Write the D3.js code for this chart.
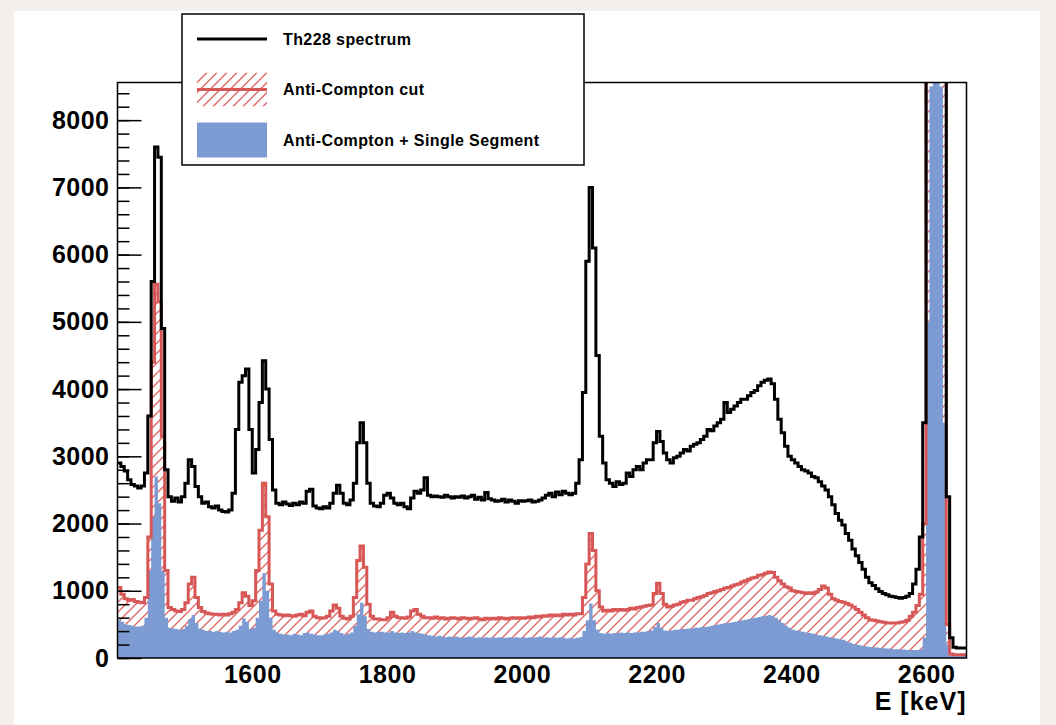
<!DOCTYPE html>
<html>
<head>
<meta charset="utf-8">
<script src="https://cdn.jsdelivr.net/npm/d3@7"></script>
<style>
  body { margin: 0; background: #f3f0eb; }
  text { font-family: "Liberation Sans", Arial, Helvetica, sans-serif; font-weight: bold; fill: #000; }
</style>
</head>
<body>
<div id="chart"></div>
<script>
// histogram bins: 5 keV wide, first bin starts at 1400 keV
var binStart = 1400, binWidth = 5;

// Th228 spectrum (counts per bin), one row = 50 keV
var th228 = [
  2900, 2850, 2780, 2650, 2580, 2560, 2530, 2560, 2750, 3600,
  5600, 7600, 7450, 4900, 2800, 2400, 2330, 2380, 2320, 2400,
  2600, 2950, 2850, 2550, 2400, 2300, 2320, 2250, 2230, 2260,
  2200, 2180, 2170, 2200, 2450, 3400, 4100, 4200, 4300, 3400,
  2750, 3100, 3800, 4420, 4000, 3250, 2500, 2300, 2280, 2320,
  2290, 2270, 2300, 2280, 2320, 2300, 2480, 2510, 2260, 2230,
  2220, 2250, 2230, 2300, 2450, 2570, 2450, 2300, 2280, 2350,
  2600, 3200, 3500, 3200, 2600, 2300, 2260, 2250, 2300, 2420,
  2450, 2380, 2300, 2280, 2300, 2250, 2220, 2380, 2480, 2450,
  2500, 2680, 2420, 2400, 2410, 2400, 2390, 2420, 2400, 2380,
  2400, 2390, 2410, 2380, 2400, 2420, 2360, 2390, 2350, 2460,
  2370, 2350, 2330, 2340, 2360, 2320, 2350, 2330, 2300, 2340,
  2330, 2340, 2350, 2320, 2330, 2350, 2380, 2420, 2450, 2400,
  2470, 2430, 2480, 2450, 2430, 2450, 2600, 2950, 3950, 5900,
  7000, 6100, 4500, 3300, 2900, 2650, 2600, 2550, 2620, 2580,
  2600, 2750, 2700, 2800, 2850, 2800, 2900, 2950, 2950, 3200,
  3370, 3220, 3050, 2950, 2900, 2980, 3000, 3050, 3100, 3080,
  3150, 3180, 3200, 3250, 3300, 3400, 3380, 3450, 3500, 3550,
  3800, 3650, 3700, 3750, 3800, 3850, 3850, 3900, 3950, 3980,
  4050, 4100, 4130, 4150, 4080, 3850, 3550, 3350, 3150, 3000,
  2950, 2900, 2850, 2800, 2780, 2750, 2700, 2680, 2620, 2560,
  2500, 2400, 2280, 2150, 2050, 1980, 1850, 1750, 1620, 1520,
  1420, 1320, 1200, 1120, 1080, 1030, 990, 960, 940, 920,
  910, 900, 890, 900, 920, 960, 1100, 1320, 1800, 3500,
  30000, 30000, 30000, 30000, 30000, 10000, 2400, 300, 160, 150,
  150, 150
];

// anti-Compton cut
var antiCompton = [
  1050, 950, 880, 860, 870, 840, 830, 820, 900, 1800,
  4400, 5560, 5300, 3300, 1300, 750, 720, 700, 690, 720,
  820, 1100, 1200, 900, 750, 690, 670, 660, 650, 650,
  640, 650, 640, 660, 680, 720, 820, 970, 920, 780,
  850, 1300, 1900, 2600, 2100, 1100, 700, 650, 640, 630,
  640, 630, 620, 640, 650, 630, 680, 700, 620, 600,
  590, 600, 620, 700, 790, 740, 620, 590, 580, 620,
  900, 1450, 1665, 1350, 800, 620, 580, 580, 570, 570,
  600, 680, 620, 600, 600, 590, 610, 700, 720, 650,
  620, 600, 600, 590, 610, 590, 600, 580, 590, 600,
  590, 580, 600, 590, 580, 590, 600, 580, 570, 590,
  580, 590, 580, 600, 590, 580, 590, 600, 590, 600,
  590, 600, 610, 600, 620, 610, 630, 620, 640, 630,
  640, 630, 650, 640, 650, 640, 660, 660, 900, 1400,
  1850, 1600, 1000, 760, 700, 710, 700, 720, 710, 720,
  710, 720, 740, 730, 750, 760, 770, 780, 790, 960,
  1110, 960, 800, 760, 770, 790, 800, 830, 840, 860,
  860, 880, 900, 910, 930, 960, 970, 990, 1000, 1020,
  1040, 1050, 1070, 1090, 1100, 1130, 1150, 1170, 1190, 1200,
  1230, 1240, 1260, 1280, 1270, 1200, 1150, 1100, 1060, 1040,
  1000, 990, 980, 970, 960, 970, 960, 980, 1020, 1070,
  1040, 950, 880, 860, 840, 830, 810, 790, 760, 720,
  680, 640, 600, 570, 560, 550, 540, 530, 520, 520,
  520, 520, 530, 540, 560, 620, 680, 780, 950, 2000,
  12000, 30000, 30000, 30000, 30000, 9000, 500, 60, 50, 50,
  50, 50
];

// anti-Compton + single segment
var singleSeg = [
  570, 540, 500, 490, 480, 470, 470, 480, 600, 1300,
  2100, 2700, 2300, 1300, 600, 450, 440, 430, 420, 430,
  480, 580, 640, 520, 440, 420, 400, 400, 390, 400,
  390, 380, 390, 380, 400, 420, 480, 590, 540, 430,
  450, 600, 850, 1260, 1000, 600, 420, 380, 360, 350,
  350, 340, 360, 350, 340, 370, 380, 360, 350, 340,
  340, 350, 360, 380, 420, 400, 370, 350, 360, 380,
  480, 650, 820, 620, 430, 390, 380, 390, 390, 380,
  380, 400, 380, 370, 380, 370, 380, 400, 380, 370,
  360, 350, 340, 330, 320, 330, 320, 310, 320, 310,
  320, 310, 300, 310, 320, 310, 300, 310, 300, 310,
  300, 310, 300, 310, 300, 300, 310, 300, 310, 300,
  310, 300, 310, 300, 310, 320, 300, 310, 300, 310,
  300, 310, 300, 290, 300, 290, 300, 310, 400, 560,
  810, 560, 420, 370, 360, 370, 360, 370, 370, 380,
  370, 380, 370, 380, 380, 390, 390, 400, 410, 460,
  520, 450, 410, 400, 410, 420, 420, 430, 430, 440,
  440, 450, 450, 460, 460, 470, 480, 490, 500, 510,
  520, 520, 530, 540, 550, 560, 570, 580, 590, 600,
  610, 620, 630, 640, 630, 600, 560, 520, 480, 450,
  420, 410, 400, 390, 380, 370, 360, 350, 340, 330,
  320, 310, 300, 290, 280, 270, 250, 230, 210, 200,
  190, 180, 170, 165, 160, 155, 150, 145, 140, 140,
  130, 130, 125, 125, 120, 120, 120, 120, 130, 300,
  5000, 8500, 20000, 20000, 8500, 3500, 200, 40, 30, 30,
  30, 30
];

var yMajorTicks = [0, 1000, 2000, 3000, 4000, 5000, 6000, 7000, 8000];
var xTickLabels = [1600, 1800, 2000, 2200, 2400, 2600];
var legendLabels = ["Th228 spectrum", "Anti-Compton cut", "Anti-Compton + Single Segment"];

var colRed = "#d75656", colHatch = "#e06a6a", colBlue = "#7b9bd2";

// set the dimensions of the plot frame
var W = 1056, H = 725;
var frame = {left: 117.5, right: 966.5, top: 82.5, bottom: 658};

var x = d3.scaleLinear().domain([1400, 2660]).range([frame.left, frame.right]);
var y = d3.scaleLinear().domain([0, 8560]).range([frame.bottom, frame.top]);

var svg = d3.select("#chart").append("svg")
    .attr("width", W)
    .attr("height", H);

// white page on beige background
svg.append("rect")
    .attr("x", 14).attr("y", 11)
    .attr("width", 1026).attr("height", 720)
    .attr("fill", "#fff");

// turn bin counts into step points (last edge repeats last value)
function steps(vals) {
  var pts = vals.map(function(v, i) { return {e: binStart + i * binWidth, v: v}; });
  pts.push({e: binStart + vals.length * binWidth, v: vals[vals.length - 1]});
  return pts;
}

var area = d3.area()
    .curve(d3.curveStepAfter)
    .x(function(d) { return x(d.e); })
    .y0(y(0))
    .y1(function(d) { return Math.max(y(d.v), frame.top - 5); });

var line = d3.line()
    .curve(d3.curveStepAfter)
    .x(function(d) { return x(d.e); })
    .y(function(d) { return y(d.v); });

var defs = svg.append("defs");
defs.append("clipPath").attr("id", "plotclip")
  .append("rect")
    .attr("x", frame.left).attr("y", frame.top)
    .attr("width", frame.right - frame.left)
    .attr("height", frame.bottom - frame.top);

// clip for the hatched anti-compton area
defs.append("clipPath").attr("id", "acclip")
  .append("path")
    .datum(steps(antiCompton))
    .attr("d", area);

defs.append("clipPath").attr("id", "legclip")
  .append("rect")
    .attr("x", 197).attr("y", 72.5)
    .attr("width", 70).attr("height", 34);

// draw 45 degree hatch lines inside a box, clipped by clipId
function hatchLines(g, x0, x1, y0, y1, clipId) {
  var h = y1 - y0;
  g.append("g")
      .attr("clip-path", "url(#" + clipId + ")")
    .selectAll("line")
      .data(d3.range(x0 - h, x1 + 10, 10))
    .enter().append("line")
      .attr("x1", function(d) { return d; })
      .attr("y1", y1)
      .attr("x2", function(d) { return d + h; })
      .attr("y2", y0)
      .style("stroke", colHatch)
      .style("stroke-width", "1.4px");
}

// anti-compton hatched area
hatchLines(svg, frame.left, frame.right, frame.top, frame.bottom, "acclip");

var plot = svg.append("g").attr("clip-path", "url(#plotclip)");

// single segment filled area
plot.append("path")
    .datum(steps(singleSeg))
    .attr("fill", colBlue)
    .attr("d", area);

plot.append("path")
    .datum(steps(antiCompton))
    .attr("fill", "none")
    .attr("stroke", colRed)
    .attr("stroke-width", 3)
    .attr("d", line);

plot.append("path")
    .datum(steps(th228))
    .attr("fill", "none")
    .attr("stroke", "#000")
    .attr("stroke-width", 3)
    .attr("d", line);

// frame
svg.append("rect")
    .attr("x", frame.left).attr("y", frame.top)
    .attr("width", frame.right - frame.left)
    .attr("height", frame.bottom - frame.top)
    .attr("fill", "none")
    .attr("stroke", "#000")
    .attr("stroke-width", 1.5);

// y axis: minor ticks then major ticks with labels (ticks point inwards)
svg.append("g")
    .attr("transform", "translate(" + frame.left + ",0)")
    .call(d3.axisLeft(y)
      .tickValues(d3.range(0, 8560, 200))
      .tickSizeInner(-12).tickSizeOuter(0)
      .tickFormat(""))
    .call(function(g) { g.select(".domain").remove(); })
    .selectAll("line").attr("stroke-width", 1.5);

var yAxis = svg.append("g")
    .attr("transform", "translate(" + frame.left + ",0)")
    .call(d3.axisLeft(y)
      .tickValues(yMajorTicks)
      .tickSizeInner(-24).tickSizeOuter(0)
      .tickPadding(8)
      .tickFormat(d3.format("d")));
yAxis.select(".domain").remove();
yAxis.selectAll("line").attr("stroke-width", 1.5);
yAxis.selectAll("text")
    .style("font-size", "25px")
    .style("letter-spacing", "0.5px");

// x axis labels only
var xAxis = svg.append("g")
    .attr("transform", "translate(0," + frame.bottom + ")")
    .call(d3.axisBottom(x)
      .tickValues(xTickLabels)
      .tickSize(0)
      .tickPadding(7)
      .tickFormat(d3.format("d")));
xAxis.select(".domain").remove();
xAxis.selectAll("text")
    .style("font-size", "25px")
    .style("letter-spacing", "0.5px");

svg.append("text")
    .attr("x", frame.right)
    .attr("y", 710)
    .attr("text-anchor", "end")
    .style("font-size", "25px")
    .style("letter-spacing", "1px")
    .text("E [keV]");

// legend
var legend = svg.append("g");
legend.append("rect")
    .attr("x", 182).attr("y", 14)
    .attr("width", 402).attr("height", 151)
    .attr("fill", "#fff")
    .attr("stroke", "#000")
    .attr("stroke-width", 1.5);

var rowY = [39, 89.5, 140];

legend.append("line")
    .attr("x1", 197).attr("x2", 267)
    .attr("y1", rowY[0]).attr("y2", rowY[0])
    .attr("stroke", "#000").attr("stroke-width", 3);

hatchLines(legend, 197, 267, rowY[1] - 17, rowY[1] + 17, "legclip");
legend.append("line")
    .attr("x1", 197).attr("x2", 267)
    .attr("y1", rowY[1]).attr("y2", rowY[1])
    .attr("stroke", colRed).attr("stroke-width", 3);

legend.append("rect")
    .attr("x", 197).attr("y", rowY[2] - 17.5)
    .attr("width", 70).attr("height", 35)
    .attr("fill", colBlue);

legend.selectAll("text.lab")
    .data(legendLabels)
  .enter().append("text")
    .attr("class", "lab")
    .attr("x", 283)
    .attr("y", function(d, i) { return rowY[i]; })
    .attr("dy", "0.35em")
    .style("font-size", "16px")
    .style("letter-spacing", "0.4px")
    .text(function(d) { return d; });
</script>
</body>
</html>
